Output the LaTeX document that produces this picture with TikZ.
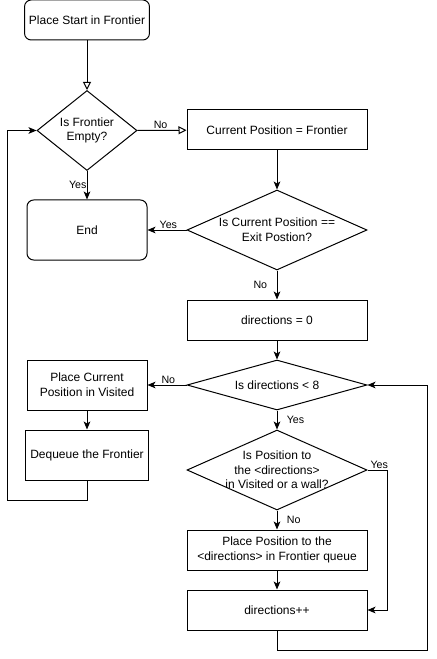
\documentclass[tikz,border=0pt]{standalone}
\usepackage{fontspec}
\setmainfont{Liberation Sans}
\usetikzlibrary{shapes.geometric,arrows.meta}
\tikzset{
	box/.style={draw, line width=0.75pt, minimum width=135pt, minimum height=30pt, align=center, font=\fontsize{9}{11}\selectfont},
	roundbox/.style={box, rounded corners=5pt, minimum width=90pt},
	decision/.style={draw, diamond, line width=0.75pt, minimum width=135pt, minimum height=60pt, inner sep=0pt},
	flow/.style={line width=0.75pt, -{Stealth[length=6pt,width=5pt,inset=1.5pt]}},
	openflow/.style={line width=0.75pt, -{Triangle[open,length=6pt,width=6pt]}},
	tag/.style={font=\fontsize{8}{9}\selectfont, inner sep=1pt}
}
\begin{document}
\begin{tikzpicture}[x=0.75pt,y=-0.75pt]
	\useasboundingbox (0,0) rectangle (436,659);
	% left column
	\node[roundbox] (start) at (87,20) {Place Start in Frontier};
	\node[decision, minimum width=75pt, label={[align=center, font=\fontsize{9}{11}\selectfont]center:Is Frontier\\Empty?}] (empty) at (87,130.5) {};
	\node[roundbox, minimum height=45pt] (stop) at (87,230) {End};
	\node[box, minimum width=90pt, minimum height=37.5pt] (visit) at (87,385) {Place Current\\Position in Visited};
	\node[box, minimum width=90pt, minimum height=37.5pt] (deq) at (87,455) {Dequeue the Frontier};
	% right column
	\node[box] (cur) at (277,130) {Current Position = Frontier};
	\node[decision, label={[align=center, font=\fontsize{9}{11}\selectfont]center:Is Current Position ==\\Exit Postion?}] (exit) at (277,230) {};
	\node[box] (dirzero) at (277,320) {directions = 0};
	\node[decision, minimum height=37.5pt, label={[font=\fontsize{9}{11}\selectfont]center:Is directions < 8}] (less) at (277,385) {};
	\node[decision, label={[align=center, font=\fontsize{9}{11}\selectfont]center:Is Position to\\the <directions>\\in Visited or a wall?}] (wall) at (277,470) {};
	\node[box] (place) at (277,550) {Place Position to the\\<directions> in Frontier queue};
	\node[box] (inc) at (277,610) {directions++};
	\coordinate (loopa) at (87,500);
	\coordinate (loopb) at (7,500);
	\coordinate (loopc) at (387,470);
	\coordinate (loopd) at (277,650);
	\coordinate (loope) at (427,650);
	% connectors
	\draw[openflow] (start) -- (empty);
	\draw[openflow] (empty) -- node[tag, above, xshift=-1pt]{No} (cur);
	\draw[flow] (empty) -- node[tag, left, xshift=1pt]{Yes} (stop);
	\draw[flow] (cur) -- (exit);
	\draw[flow] (exit) -- node[tag, above, xshift=1pt]{Yes} (stop);
	\draw[flow] (exit) -- node[tag, left, xshift=-6pt]{No} (dirzero);
	\draw[flow] (dirzero) -- (less);
	\draw[flow] (less) -- node[tag, above, xshift=1pt]{No} (visit);
	\draw[flow] (visit) -- (deq);
	\draw[flow] (deq) -- (loopa) -- (loopb) |- (empty.west);
	\draw[flow] (less) -- node[tag, right, xshift=6pt]{Yes} (wall);
	\draw[flow] (wall) -- node[tag, right, xshift=6pt]{No} (place);
	\draw[flow] (wall.east) -- node[tag, above, pos=0.6]{Yes} (loopc) |- (inc.east);
	\draw[flow] (place) -- (inc);
	\draw[flow] (inc) -- (loopd) -- (loope) |- (less.east);
\end{tikzpicture}
\end{document}
